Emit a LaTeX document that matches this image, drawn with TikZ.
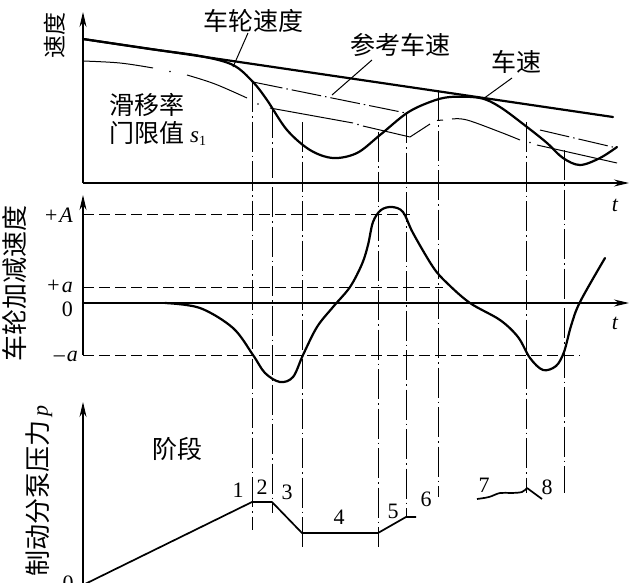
\documentclass[tikz,border=0pt]{standalone}
\usepackage{fontspec}
\setmainfont{Liberation Serif}
\newfontfamily\cjk{Noto Sans CJK SC}
\usetikzlibrary{arrows.meta}
\begin{document}
\begin{tikzpicture}[x=1pt,y=-1pt,
  every node/.style={inner sep=0pt},
  cn/.style={font=\cjk\fontsize{25}{25}\selectfont},
  cnax/.style={font=\cjk\fontsize{26}{26}\selectfont, rotate=90},
  mt/.style={font=\fontsize{22}{22}\selectfont\itshape},
  num/.style={font=\fontsize{22}{22}\selectfont},
  axisline/.style={line width=1.2pt,-{Stealth[length=15pt,width=7pt]}},
  thickc/.style={line width=2.2pt, line join=round, line cap=round},
  thinc/.style={line width=1pt},
  refl/.style={line width=1pt, dash pattern=on 30pt off 4pt on 1.5pt off 4pt},
  vline/.style={line width=1pt, dash pattern=on 30pt off 4pt on 1.5pt off 4pt},
  hdash/.style={line width=1pt, dash pattern=on 11pt off 5pt},
  press/.style={line width=1.7pt, line join=round},
  leader/.style={line width=1pt}]
\useasboundingbox (0,0) rectangle (630,582);

% ---------- vertical phase lines ----------
\foreach \xx/\ya/\yb in {252/82/530, 272/108/513, 302/122/547, 378/132/547,
                         406/113/517, 438/91/497, 526/122/493, 564/150/493}
  \draw[vline] (\xx,\ya) -- (\xx,\yb);

% ---------- axes ----------
\coordinate (o1) at (83,183); \coordinate (y1) at (83,12); \coordinate (x1) at (629,183);
\draw[axisline] (o1) -- (y1);
\draw[axisline] (o1) -- (x1);
\coordinate (m0) at (83,355); \coordinate (my) at (83,195);
\coordinate (mo) at (83,303); \coordinate (mx) at (629,303);
\draw[axisline] (m0) -- (my);
\draw[axisline] (mo) -- (mx);
\coordinate (b0) at (83,600); \coordinate (by) at (83,402);
\draw[axisline] (b0) -- (by);

% ---------- top graph ----------
\coordinate (vs0) at (83,39); \coordinate (vs1) at (613,117);
\draw[thickc] (vs0) -- (vs1);
\draw[thickc] plot[smooth, tension=0.55] coordinates {(83,39) (150,49) (200,56) (233,65)
  (253,82) (267,100) (287,130) (310,150) (333,158) (357,153) (380,135) (407,113)
  (430,102) (450,97) (480,98) (500,107) (527,127) (547,143) (563,158) (580,165)
  (600,158) (617,147)};
\draw[refl] (253,82) -- (406,113);
\draw[refl] (540,130) -- (617,148);
\draw[thinc] plot[smooth, tension=0.6] coordinates {(83,61) (120,63) (153,68)};
\fill (170,71.5) circle (0.8pt);
\draw[thinc] plot[smooth, tension=0.6] coordinates {(187,75) (215,84) (247,98)};
\fill (258,104) circle (0.8pt);
\draw[thinc] (270,108) -- (353,123);
\fill (358,124.5) circle (0.8pt);
\draw[thinc, line join=round] (363,126) -- (410,137) -- (430,124);
\draw[thinc] (437,120.5) -- (443,120);
\draw[thinc] plot[smooth, tension=0.6] coordinates {(452,119) (467,120) (500,132) (520,140)};
\fill (530,142.5) circle (0.8pt);
\draw[thinc] (537,145) -- (617,163);

\node[cn] (lw) at (253,21) {车轮速度};
\node[cn] (lr) at (400,45) {参考车速};
\node[cn] (lv) at (516,62) {车速};
\coordinate (lwa) at (248,33); \coordinate (lwb) at (233,67);
\coordinate (lra) at (372,60); \coordinate (lrb) at (332,95);
\coordinate (lva) at (512,78); \coordinate (lvb) at (483,99);
\draw[leader] (lwa) -- (lwb);
\draw[leader] (lra) -- (lrb);
\draw[leader] (lva) -- (lvb);
\node[cn, anchor=west] (sl1) at (109,105) {滑移率};
\node[cn, anchor=west] (sl2) at (109,133) {门限值\kern6pt{\normalfont\fontsize{23}{23}\selectfont\itshape s}{\normalfont\fontsize{14}{14}\selectfont\raisebox{-3pt}{1}}};
\node[cnax, font=\cjk\fontsize{23}{23}\selectfont] (ylab1) at (55,35) {速度};
\node[mt] (t1) at (615,205) {t};

% ---------- middle graph ----------
\coordinate (hA0) at (83,214); \coordinate (hA1) at (410,214);
\coordinate (ha0) at (83,287); \coordinate (ha1) at (443,287);
\coordinate (hm0) at (83,355); \coordinate (hm1) at (580,355);
\draw[hdash] (hA0) -- (hA1);
\draw[hdash] (ha0) -- (ha1);
\draw[hdash] (hm0) -- (hm1);
\draw[thickc] (83,303) -- (165,303);
\draw[thickc] plot[smooth, tension=0.55] coordinates {(165,303) (200,308) (233,328)
  (253,355) (265,373) (280,382) (293,377) (303,355) (317,327) (333,307) (350,287)
  (362,264) (368,245) (373,222) (381,210) (392,207) (403,212) (413,233) (433,267)
  (447,283) (470,303) (500,320) (518,337) (530,358) (543,370) (556,366) (564,352)
  (571,326) (580,302) (605,258)};
\node[mt, anchor=east] (lA) at (73,215) {+\kern1pt A};
\node[mt, anchor=east] (la) at (73,286) {+\kern1pt a};
\node[num, anchor=east] (l0) at (73,309) {0};
\node[mt, anchor=east] (lma) at (78,356) {{\upshape\textendash}\kern2pt a};
\node[mt] (t2) at (615,323) {t};
\node[cnax] (ylab2) at (15,283) {车轮加减速度};

% ---------- bottom graph ----------
\draw[press] (83,585) -- (252,502) -- (272,502) -- (302,533) -- (378,533) -- (406,517) -- (416,517);
\draw[press] plot[smooth, tension=0.6] coordinates {(477,499) (489,497) (500,493) (511,493) (522,492) (527,488)} -- (542,499);
\node[cn] (stage) at (177,449) {阶段};
\node[num] (n1) at (238,490) {1};
\node[num] (n2) at (262,487) {2};
\node[num] (n3) at (287,492) {3};
\node[num] (n4) at (339,517) {4};
\node[num] (n5) at (393,511) {5};
\node[num] (n6) at (426,499) {6};
\node[num] (n7) at (484,485) {7};
\node[num] (n8) at (547,487) {8};
\node[num, anchor=north] (bo) at (68,576) {0};
\node[cnax, anchor=east] (ylab3) at (39,405) {制动分泵压力\,{\normalfont\fontsize{22}{22}\selectfont\itshape p}};
\end{tikzpicture}
\end{document}
